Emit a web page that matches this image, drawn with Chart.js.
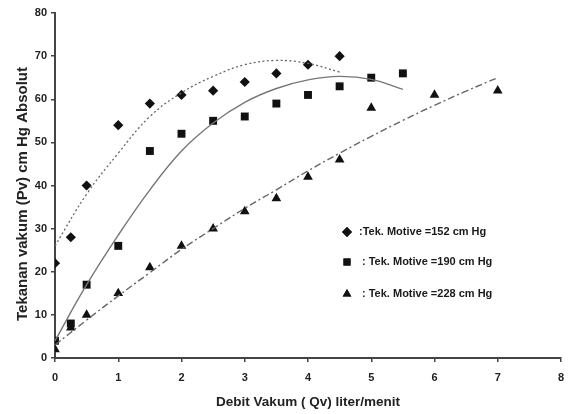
<!DOCTYPE html>
<html>
<head>
<meta charset="utf-8">
<script src="https://cdn.jsdelivr.net/npm/chart.js@4/dist/chart.umd.min.js"></script>
<style>
html,body{margin:0;padding:0;background:#fff;}
#wrap{position:relative;width:569px;height:414px;}
</style>
</head>
<body>
<div id="wrap"><canvas id="c" width="569" height="414"></canvas></div>
<script>
// Measured points
const x152 = [0, 0.25, 0.5, 1, 1.5, 2, 2.5, 3, 3.5, 4, 4.5];
const y152 = [22, 28, 40, 54, 59, 61, 62, 64, 66, 68, 70];
const x190 = [0, 0.25, 0.5, 1, 1.5, 2, 2.5, 3, 3.5, 4, 4.5, 5, 5.5];
const y190 = [4, 8, 17, 26, 48, 52, 55, 56, 59, 61, 63, 65, 66];
const x228 = [0, 0.25, 0.5, 1, 1.5, 2, 2.5, 3, 3.5, 4, 4.5, 5, 6, 7];
const y228 = [2, 7, 10, 15, 21, 26, 30, 34, 37, 42, 46, 58, 61, 62];
// Trend curves
const tx152 = [0, 0.5, 1, 1.5, 2, 2.5, 3, 3.5, 4, 4.5];
const ty152 = [26, 38, 47.5, 56, 61.5, 65.3, 68, 69, 68.3, 66.3];
const tx190 = [0, 0.5, 1, 1.5, 2, 2.5, 3, 3.5, 4, 4.5, 5, 5.5];
const ty190 = [4, 17, 28.5, 39, 48, 54.5, 59.3, 62.5, 64.5, 65.3, 64.6, 62.3];
const tx228 = [0, 0.5, 1, 1.5, 2, 2.5, 3, 3.5, 4, 4.5, 5, 5.5, 6, 6.5, 7];
const ty228 = [3, 8.8, 14.4, 19.8, 25.2, 30, 34.7, 39, 43.4, 47.5, 51.4, 55.1, 58.6, 61.9, 65];
const xTicks = [0, 1, 2, 3, 4, 5, 6, 7, 8];
const yTicks = [0, 10, 20, 30, 40, 50, 60, 70, 80];
const legendLabels = [":Tek. Motive =152 cm Hg", ": Tek. Motive =190 cm Hg", ": Tek. Motive =228 cm Hg"];
const legendStyles = ['rectRot', 'rect', 'triangle'];
const yTitle = 'Tekanan vakum (Pv) cm Hg Absolut';
const xTitle = 'Debit Vakum ( Qv) liter/menit';

const pts = (xs, ys) => xs.map((x, i) => ({x, y: ys[i]}));
const FONT = "'Liberation Sans', Arial, sans-serif";

const legendPlugin = {
  id: 'customLegend',
  afterDraw(chart) {
    const ctx = chart.ctx;
    ctx.save();
    ctx.font = "bold 11px " + FONT;
    ctx.textBaseline = 'middle';
    const rows = [232, 262, 294];
    const sizes = [5, 5, 5];
    legendLabels.forEach((t, i) => {
      const y = rows[i];
      ctx.fillStyle = '#111';
      Chart.helpers.drawPoint(ctx, {pointStyle: legendStyles[i], radius: sizes[i], borderWidth: 0}, 347, y);
      ctx.fill();
      ctx.fillStyle = '#1a1a1a';
      ctx.fillText(t, i === 0 ? 359 : 362, y);
    });
    // y axis title
    ctx.translate(23, 194);
    ctx.rotate(-Math.PI / 2);
    ctx.font = "bold 15px " + FONT;
    ctx.fillStyle = '#222';
    ctx.textAlign = 'center';
    ctx.fillText(yTitle, 0, 0);
    ctx.restore();
  }
};

new Chart(document.getElementById('c'), {
  type: 'scatter',
  data: {
    datasets: [
      {label: 'T152', data: pts(tx152, ty152), showLine: true, pointRadius: 0, borderColor: '#666', borderWidth: 1.3, borderDash: [2, 2.5], tension: 0.4, fill: false},
      {label: 'T190', data: pts(tx190, ty190), showLine: true, pointRadius: 0, borderColor: '#777', borderWidth: 1.4, tension: 0.4, fill: false},
      {label: 'T228', data: pts(tx228, ty228), showLine: true, pointRadius: 0, borderColor: '#666', borderWidth: 1.4, borderDash: [7, 3, 2, 3], tension: 0.4, fill: false},
      {label: legendLabels[0], data: pts(x152, y152), pointStyle: 'rectRot', pointRadius: 5.1, backgroundColor: '#111', borderColor: '#111', borderWidth: 0},
      {label: legendLabels[1], data: pts(x190, y190), pointStyle: 'rect', pointRadius: 5.6, backgroundColor: '#111', borderColor: '#111', borderWidth: 0},
      {label: legendLabels[2], data: pts(x228, y228), pointStyle: 'triangle', pointRadius: 5.6, backgroundColor: '#111', borderColor: '#111', borderWidth: 0}
    ]
  },
  options: {
    responsive: false,
    animation: false,
    layout: {padding: {left: 14, top: 13, right: 8, bottom: 4}},
    plugins: {legend: {display: false}, tooltip: {enabled: false}},
    scales: {
      x: {
        type: 'linear', min: 0, max: 8,
        afterBuildTicks: s => { s.ticks = xTicks.map(v => ({value: v})); },
        afterFit: s => { s.height = 52; s.paddingRight = 3; s.paddingLeft = 3; },
        ticks: {color: '#222', font: {family: FONT, size: 11, weight: 'bold'}, padding: 9},
        grid: {display: true, drawOnChartArea: false, drawTicks: true, tickLength: 4, color: '#444', lineWidth: 1.5},
        border: {display: true, color: '#444', width: 2},
        title: {display: true, text: xTitle, color: '#222', font: {family: FONT, size: 13.5, weight: 'bold'}, padding: {top: 8, bottom: 0}}
      },
      y: {
        type: 'linear', min: 0, max: 80,
        afterBuildTicks: s => { s.ticks = yTicks.map(v => ({value: v})); },
        afterFit: s => { s.width = 41; },
        ticks: {color: '#222', font: {family: FONT, size: 11, weight: 'bold'}, padding: 4},
        grid: {display: true, drawOnChartArea: false, drawTicks: true, tickLength: 4, color: '#444', lineWidth: 1.5},
        border: {display: true, color: '#444', width: 2},
        title: {display: false}
      }
    }
  },
  plugins: [legendPlugin]
});
</script>
</body>
</html>
